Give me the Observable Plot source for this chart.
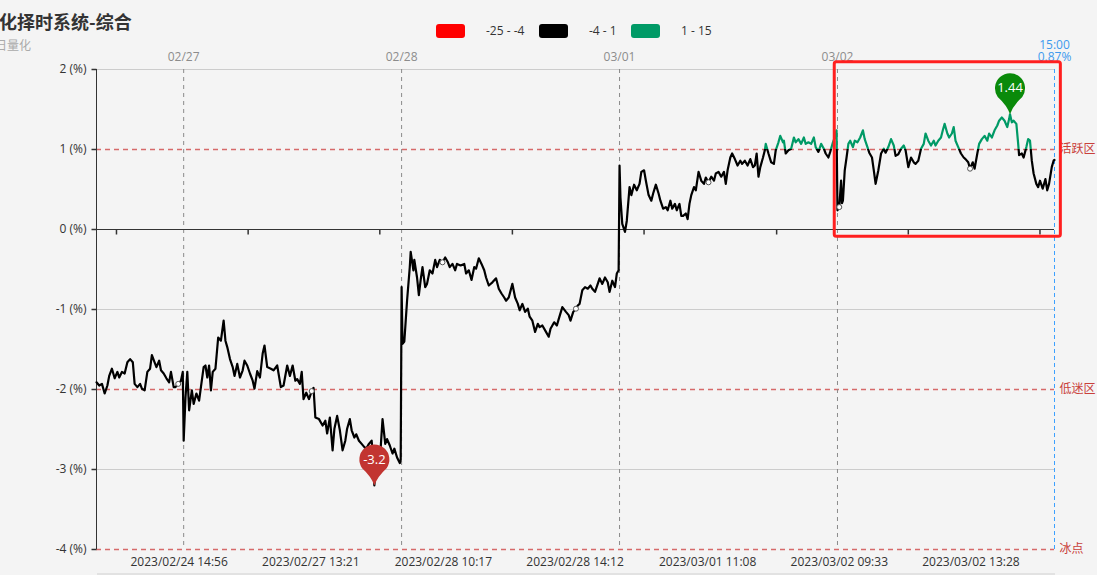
<!DOCTYPE html>
<html><head><meta charset="utf-8">
<script src="https://cdn.jsdelivr.net/npm/d3@7"></script>
<script src="https://cdn.jsdelivr.net/npm/@observablehq/plot@0.6"></script>
<style>
body{margin:0;background:#f4f4f4;width:1097px;height:575px;overflow:hidden;position:relative;font-family:'Open Sans','Noto Sans CJK SC',sans-serif}
.abs{position:absolute;white-space:nowrap}
.sw{position:absolute;top:24px;width:29px;height:14px;border-radius:3px}
.lt{position:absolute;top:24px;height:14px;line-height:14px;font-size:12px;color:#333}
</style></head>
<body>
<div class="abs" style="left:-1px;top:11px;font-family:'Noto Sans CJK SC',sans-serif;font-size:18px;line-height:20px;font-weight:bold;color:#333">化择时系统-综合</div>
<div class="abs" style="left:-5px;top:38px;font-family:'Noto Sans CJK SC',sans-serif;font-size:12px;line-height:14px;color:#aaa">日量化</div>
<div id="legend"></div>
<div id="chart" class="abs" style="left:0;top:44px"></div>
<div class="abs" style="left:97px;top:573px;width:958px;height:2px;background:#e2e2e2"></div>
<script>
// ---- data: [minute index, value %] per trading day ----
const d0224 = [[0,-1.91],[3,-1.95],[6,-1.93],[9,-2.05],[12,-1.95],[14,-1.83],[17,-1.74],[20,-1.86],[23,-1.78],[25,-1.85],[28,-1.78],[31,-1.80],[34,-1.66],[37,-1.62],[40,-1.66],[42,-1.93],[45,-1.97],[48,-1.93],[50,-1.99],[53,-2.01],[56,-1.78],[59,-1.74],[61,-1.57],[64,-1.66],[66,-1.72],[69,-1.64],[71,-1.76],[74,-1.80],[77,-1.86],[80,-1.91],[82,-1.78],[85,-1.97],[87,-1.97],[90,-1.93],[93,-1.89],[95,-1.78]];
const d0227 = [[96,-2.64],[98,-2.10],[100,-1.78],[102,-2.26],[105,-2.01],[107,-2.18],[110,-2.05],[113,-2.14],[115,-1.97],[118,-1.72],[120,-1.70],[122,-1.85],[124,-1.70],[126,-2.01],[128,-1.78],[131,-1.74],[134,-1.35],[137,-1.39],[140,-1.14],[142,-1.39],[144,-1.47],[147,-1.62],[150,-1.72],[152,-1.83],[155,-1.68],[158,-1.85],[161,-1.76],[163,-1.64],[166,-1.70],[169,-1.80],[172,-1.89],[174,-1.99],[177,-1.77],[180,-1.85],[183,-1.55],[185,-1.45],[188,-1.72],[192,-1.74],[195,-1.76],[199,-1.70],[203,-1.97],[206,-1.95],[210,-1.70],[213,-1.83],[216,-1.70],[219,-1.89],[221,-1.87],[224,-1.93],[226,-1.78],[228,-2.12],[231,-2.04],[234,-2.12],[237,-2.02],[239,-1.98],[241,-2.35],[245,-2.37],[249,-2.45],[252,-2.39],[254,-2.55],[257,-2.35],[260,-2.76],[262,-2.49],[265,-2.33],[268,-2.51],[271,-2.76],[274,-2.64],[276,-2.49],[279,-2.37],[281,-2.51],[284,-2.60],[286,-2.56],[289,-2.64],[292,-2.68],[295,-2.72],[297,-2.74],[300,-2.68],[303,-2.64],[305,-2.90],[306,-3.20],[308,-2.85],[309,-2.76],[313,-2.72],[315,-2.37],[318,-2.68],[320,-2.62],[323,-2.70],[326,-2.80],[328,-2.74],[331,-2.85],[334,-2.92],[335,-2.88]];
const d0228 = [[336,-0.72],[337,-1.43],[339,-1.40],[342,-0.89],[345,-0.47],[346,-0.28],[349,-0.51],[350,-0.38],[353,-0.60],[355,-0.82],[357,-0.63],[359,-0.47],[362,-0.72],[364,-0.68],[367,-0.51],[370,-0.55],[373,-0.38],[375,-0.47],[378,-0.38],[381,-0.41],[384,-0.35],[387,-0.41],[389,-0.47],[392,-0.43],[395,-0.51],[397,-0.43],[401,-0.45],[405,-0.43],[407,-0.55],[410,-0.51],[413,-0.63],[416,-0.47],[418,-0.49],[421,-0.36],[424,-0.43],[427,-0.51],[429,-0.60],[432,-0.70],[436,-0.66],[440,-0.61],[443,-0.74],[446,-0.80],[449,-0.85],[451,-0.89],[454,-0.85],[458,-0.68],[461,-0.85],[464,-0.93],[466,-1.01],[469,-0.93],[472,-1.03],[475,-0.99],[477,-1.09],[480,-1.14],[483,-1.28],[486,-1.18],[488,-1.22],[491,-1.20],[495,-1.28],[498,-1.34],[500,-1.24],[504,-1.16],[507,-1.20],[509,-1.12],[513,-0.97],[517,-1.03],[520,-1.07],[522,-1.14],[525,-1.03],[528,-0.99],[530,-0.95],[532,-0.93],[535,-0.76],[538,-0.72],[541,-0.74],[544,-0.70],[546,-0.74],[549,-0.78],[552,-0.68],[554,-0.61],[557,-0.68],[560,-0.60],[563,-0.66],[565,-0.78],[568,-0.64],[571,-0.72],[573,-0.55],[575,-0.51]];
const d0301 = [[576,0.80],[577,0.40],[579,0.07],[582,-0.03],[584,0.11],[587,0.53],[589,0.43],[592,0.56],[595,0.49],[598,0.57],[600,0.72],[603,0.74],[605,0.61],[608,0.43],[611,0.36],[613,0.45],[616,0.56],[619,0.45],[621,0.36],[624,0.26],[627,0.28],[629,0.24],[632,0.36],[634,0.26],[637,0.32],[639,0.24],[642,0.32],[644,0.17],[646,0.17],[649,0.20],[651,0.13],[653,0.32],[655,0.43],[658,0.53],[660,0.49],[663,0.72],[666,0.61],[669,0.57],[671,0.65],[674,0.59],[677,0.66],[680,0.61],[682,0.70],[685,0.72],[688,0.66],[691,0.72],[693,0.57],[695,0.74],[698,0.90],[700,0.95],[703,0.88],[706,0.80],[709,0.86],[711,0.82],[714,0.86],[717,0.80],[720,0.88],[723,0.78],[725,0.80],[727,0.95],[729,0.66],[731,0.78],[734,0.90],[736,0.99],[737,1.07],[740,0.95],[743,0.84],[746,0.82],[748,0.99],[751,1.09],[753,1.17],[756,1.09],[757,1.11],[759,0.95],[762,0.99],[765,1.01],[768,1.15],[770,1.09],[773,1.13],[776,1.07],[779,1.15],[781,1.07],[784,1.09],[787,1.07],[790,1.15],[792,1.03],[795,0.97],[798,1.07],[801,1.01],[803,0.95],[806,0.90],[808,0.97],[811,1.09],[813,1.15],[814,1.20],[815,1.24]];
const d0302 = [[816,0.24],[818,0.28],[820,0.61],[821,0.33],[822,0.36],[824,0.74],[826,0.90],[828,1.07],[830,1.11],[833,1.03],[835,1.11],[838,1.09],[841,1.15],[844,1.24],[846,1.13],[849,1.03],[851,0.96],[854,0.90],[856,0.74],[858,0.57],[861,0.74],[864,0.95],[867,1.01],[869,0.96],[872,1.03],[875,1.13],[878,1.05],[880,0.92],[883,0.94],[886,1.01],[889,1.05],[891,0.99],[894,0.78],[897,0.90],[900,0.84],[902,0.82],[905,0.86],[908,1.01],[911,1.07],[913,1.20],[916,1.11],[919,1.05],[922,1.11],[924,1.05],[927,1.11],[930,1.15],[932,1.24],[934,1.32],[937,1.20],[939,1.15],[942,1.20],[944,1.28],[946,1.11],[949,1.03],[952,0.95],[955,0.90],[957,0.88],[960,0.84],[962,0.76],[965,0.84],[967,0.76],[970,0.95],[972,1.07],[975,1.13],[978,1.17],[981,1.11],[983,1.20],[986,1.15],[989,1.24],[992,1.30],[994,1.36],[997,1.40],[1000,1.36],[1003,1.28],[1005,1.38],[1006,1.44],[1008,1.34],[1010,1.36],[1013,1.32],[1015,1.07],[1016,0.93],[1019,0.95],[1021,0.90],[1024,1.03],[1026,1.13],[1028,1.11],[1030,0.86],[1032,0.70],[1035,0.57],[1037,0.53],[1039,0.61],[1042,0.51],[1045,0.63],[1047,0.49],[1049,0.57],[1052,0.78],[1054,0.86],[1055,0.87]];

const lastMinute = 1055;
const lastTimeLabel = "15:00";
const yTicks = [2, 1, 0, -1, -2, -3, -4];
const gridValues = [2, -1, -3];
const levelValues = [1, -2, -4];
const levelLabels = ["活跃区", "低迷区", "冰点"];
const dayStartIdx = [96, 336, 576, 816];
const dayLabels = ["02/27", "02/28", "03/01", "03/02"];
const timeLabelIdx = [91, 236, 382, 527, 673, 818, 963];
const timeLabels = ["2023/02/24 14:56", "2023/02/27 13:21", "2023/02/28 10:17", "2023/02/28 14:12", "2023/03/01 11:08", "2023/03/02 09:33", "2023/03/02 13:28"];
const axisTickIdx = [22, 167, 312, 458, 603, 749, 894, 1039];
const legendLabels = ["-25 - -4", "-4 - 1", "1 - 15"];
const legendColors = ["#ff0000", "#000000", "#009a66"];
const highlightBox = {x1: 813, x2: 1062, y1: -0.09, y2: 2.09};

// ---- legend ----
const lg = document.getElementById("legend");
const swLeft = [436, 539, 631], txLeft = [486, 589, 681];
legendLabels.forEach((t, i) => {
  const s = document.createElement("div"); s.className = "sw"; s.style.left = swLeft[i] + "px"; s.style.background = legendColors[i]; lg.appendChild(s);
  const l = document.createElement("div"); l.className = "lt"; l.style.left = txLeft[i] + "px"; l.textContent = t; lg.appendChild(l);
});

const series = [...d0224, ...d0227, ...d0228, ...d0301, ...d0302].map(([m, v]) => ({m, v}));
const minPt = d3.least(series, d => d.v);
const maxPt = d3.greatest(series, d => d.v);
const lastPt = series[series.length - 1];
const nearest = t => d3.least(series, d => Math.abs(d.m - t));
const circlePts = timeLabelIdx.map(nearest);
const levels = levelValues.map((v, i) => ({v, label: levelLabels[i]}));
const days = dayStartIdx.map((m, i) => ({m, label: dayLabels[i]}));
const timeTicks = timeLabelIdx.map((m, i) => ({m, label: timeLabels[i]}));

const pinSymbol = {draw(ctx) {
  ctx.moveTo(0, 0);
  ctx.quadraticCurveTo(-3, -9, -12.26, -17.35);
  ctx.arc(0, -26, 15, 2.527, 0.614, false);
  ctx.quadraticCurveTo(3, -9, 0, 0);
  ctx.closePath();
}};
const vTick = {draw(ctx) { ctx.moveTo(0, 0); ctx.lineTo(0, 5); }};
const hTick = {draw(ctx) { ctx.moveTo(-5, 0); ctx.lineTo(0, 0); }};

const W = 1097, H = 531;
const chart = Plot.plot({
  width: W, height: H,
  marginLeft: 96, marginRight: 43, marginTop: 25, marginBottom: 26,
  x: {domain: [0, lastMinute], axis: null},
  y: {domain: [-4, 2], axis: null},
  style: {background: "transparent", fontFamily: "'Open Sans', 'Noto Sans CJK SC', sans-serif", fontSize: "12px", overflow: "visible"},
  marks: [
    Plot.ruleY(gridValues, {stroke: "#cccccc"}),
    Plot.ruleY(levels, {y: "v", stroke: "#d66a6a", strokeWidth: 1.3, strokeDasharray: "5,4"}),
    Plot.text(levels, {y: "v", text: "label", frameAnchor: "right", dx: 5, textAnchor: "start", lineAnchor: "middle", fill: "#c9403a", fontFamily: "'Noto Sans CJK SC', sans-serif"}),
    Plot.ruleX(days, {x: "m", stroke: "#8a8a8a", strokeDasharray: "4,4"}),
    Plot.text(days, {x: "m", text: "label", frameAnchor: "top", lineAnchor: "middle", dy: -12, fill: "#8c8c8c"}),
    Plot.ruleX([lastPt], {x: "m", stroke: "#3ba0ff", strokeDasharray: "4,3"}),
    Plot.text([lastPt], {x: "m", text: () => lastTimeLabel, frameAnchor: "top", lineAnchor: "middle", dy: -24, fill: "#3d9aee"}),
    Plot.text([lastPt], {x: "m", text: d => d.v + "%", frameAnchor: "top", lineAnchor: "middle", dy: -12, fill: "#3d9aee"}),
    Plot.ruleY([0], {stroke: "#333"}),
    Plot.dot(axisTickIdx, {x: d => d, y: () => 0, symbol: vTick, stroke: "#333", fill: "none"}),
    Plot.ruleX([0], {stroke: "#333"}),
    Plot.dot(yTicks, {x: () => 0, y: d => d, symbol: hTick, stroke: "#333", fill: "none"}),
    Plot.text(yTicks, {y: d => d, text: d => `${d} (%)`, frameAnchor: "left", dx: -10, textAnchor: "end", lineAnchor: "middle", fill: "#333"}),
    Plot.text(timeTicks, {x: "m", text: "label", frameAnchor: "bottom", lineAnchor: "middle", dy: 13, fill: "#333"}),
    Plot.line(series, {x: "m", y: "v", stroke: "black", strokeWidth: 2.2, strokeLinejoin: "round"}),
    Plot.dot(circlePts, {x: "m", y: "v", r: 2.5, fill: "white", stroke: "#555", strokeWidth: 1}),
    Plot.rect([highlightBox], {x1: "x1", x2: "x2", y1: "y1", y2: "y2", fill: "none", stroke: "#ff1f1f", strokeWidth: 3, rx: 2}),
    Plot.dot([minPt], {x: "m", y: "v", symbol: pinSymbol, fill: "#c23531", stroke: "none"}),
    Plot.text([minPt], {x: "m", y: "v", text: d => String(d.v), dy: -26, lineAnchor: "middle", fill: "white", fontSize: 13}),
    Plot.dot([maxPt], {x: "m", y: "v", symbol: pinSymbol, fill: "#0a8a0a", stroke: "none"}),
    Plot.text([maxPt], {x: "m", y: "v", text: d => String(d.v), dy: -26, lineAnchor: "middle", fill: "white", fontSize: 13})
  ]
});
document.getElementById("chart").appendChild(chart);

// colour the line by value band (green above 1, black below) via a vertical gradient
const svg = d3.select(chart.tagName.toLowerCase() === "svg" ? chart : chart.querySelector("svg"));
const yPix = chart.scale("y").apply(1);
const t = yPix / H;
const grad = svg.insert("defs", ":first-child").append("linearGradient")
  .attr("id", "lineGrad").attr("gradientUnits", "userSpaceOnUse")
  .attr("x1", 0).attr("y1", 0).attr("x2", 0).attr("y2", H);
grad.append("stop").attr("offset", 0).attr("stop-color", legendColors[2]);
grad.append("stop").attr("offset", t).attr("stop-color", legendColors[2]);
grad.append("stop").attr("offset", t).attr("stop-color", legendColors[1]);
grad.append("stop").attr("offset", 1).attr("stop-color", legendColors[1]);
svg.selectAll('g[aria-label="line"] path').attr("stroke", "url(#lineGrad)");
</script>
</body></html>
